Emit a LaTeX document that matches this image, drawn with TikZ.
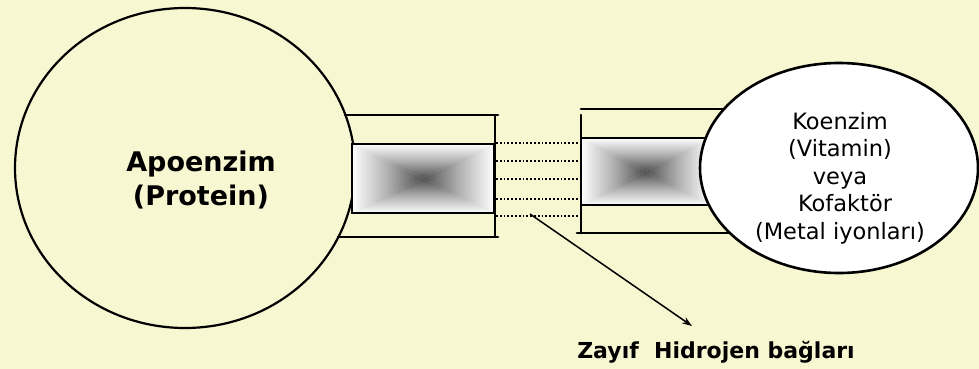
\documentclass[tikz,border=0pt]{standalone}
\usepackage{fontspec}
\setmainfont{DejaVu Sans}
\usetikzlibrary{shapes.geometric,arrows.meta,calc}
\definecolor{bg}{RGB}{247,247,210}
\definecolor{core}{RGB}{80,80,80}
\tikzset{
  bline/.style={line width=2.6pt, line cap=round},
  hbond/.style={line width=1.8pt, dotted},
}
\newcommand\pyrshade[1]{%
  \begin{scope}
    \clip (#1.north west) -- (#1.north east) -- (#1.center) -- cycle;
    \shade[top color=white, bottom color=core, middle color=white!55!core] (#1.north west) rectangle (#1.east);
  \end{scope}
  \begin{scope}
    \clip (#1.south west) -- (#1.south east) -- (#1.center) -- cycle;
    \shade[top color=core, bottom color=white, middle color=white!55!core] (#1.west) rectangle (#1.south east);
  \end{scope}
  \begin{scope}
    \clip (#1.north west) -- (#1.south west) -- (#1.center) -- cycle;
    \shade[left color=white, right color=core, middle color=white!55!core] (#1.north west) rectangle (#1.south);
  \end{scope}
  \begin{scope}
    \clip (#1.north east) -- (#1.south east) -- (#1.center) -- cycle;
    \shade[left color=core, right color=white, middle color=white!55!core] (#1.north) rectangle (#1.south east);
  \end{scope}
  \draw[line width=2pt] (#1.north west) rectangle (#1.south east);
}
\begin{document}
\begin{tikzpicture}[x=1pt,y=-1pt]
\fill[bg] (0,0) rectangle (979,369);
\useasboundingbox (0,0) rectangle (979,369);

% Apoenzim circle
\node[draw, ellipse, line width=2.2pt, minimum width=340pt, minimum height=320pt, inner sep=0pt] (apo) at (185,168) {};
\node[align=center, font=\fontsize{27}{34}\selectfont\bfseries] (apotext) at (201,180) {Apoenzim\\(Protein)};

% left bracket
\draw[bline] (345,115) -- (498,115);
\draw[bline] (338,237) -- (498,237);
\draw[bline] (495,115) -- (495,237);
\node[minimum width=142pt, minimum height=69pt, inner sep=0pt] (lbox) at (423,178.5) {};
\pyrshade{lbox}

% right bracket
\draw[bline] (581,109) -- (735,109);
\draw[bline] (577,233) -- (735,233);
\draw[bline] (581,115) -- (581,233);
\node[minimum width=129pt, minimum height=67pt, inner sep=0pt] (rbox) at (645.5,171.5) {};
\pyrshade{rbox}

% hydrogen bonds
\foreach \yy in {143,161,179,199,216}{
  \draw[hbond] (496,\yy) -- (579,\yy);
}

% Koenzim ellipse
\node[draw, ellipse, fill=white, line width=2.6pt, minimum width=278pt, minimum height=210pt, inner sep=0pt] (koe) at (839,168) {};
\node[align=center, font=\fontsize{22.5}{27.5}\selectfont] (koetext) at (840,178) {Koenzim\\(Vitamin)\\veya\\\hspace*{10pt}Kofaktör\\(Metal iyonları)};

% label and arrow
\node[font=\fontsize{22}{28}\selectfont\bfseries] (zay) at (716,352) {Zayıf\ \ Hidrojen bağları};
\coordinate (hs) at (530,214);
\coordinate (he) at (692,326);
\draw[line width=1.5pt, -{Stealth[length=10pt,width=7pt]}] (hs) -- (he);
\end{tikzpicture}
\end{document}
